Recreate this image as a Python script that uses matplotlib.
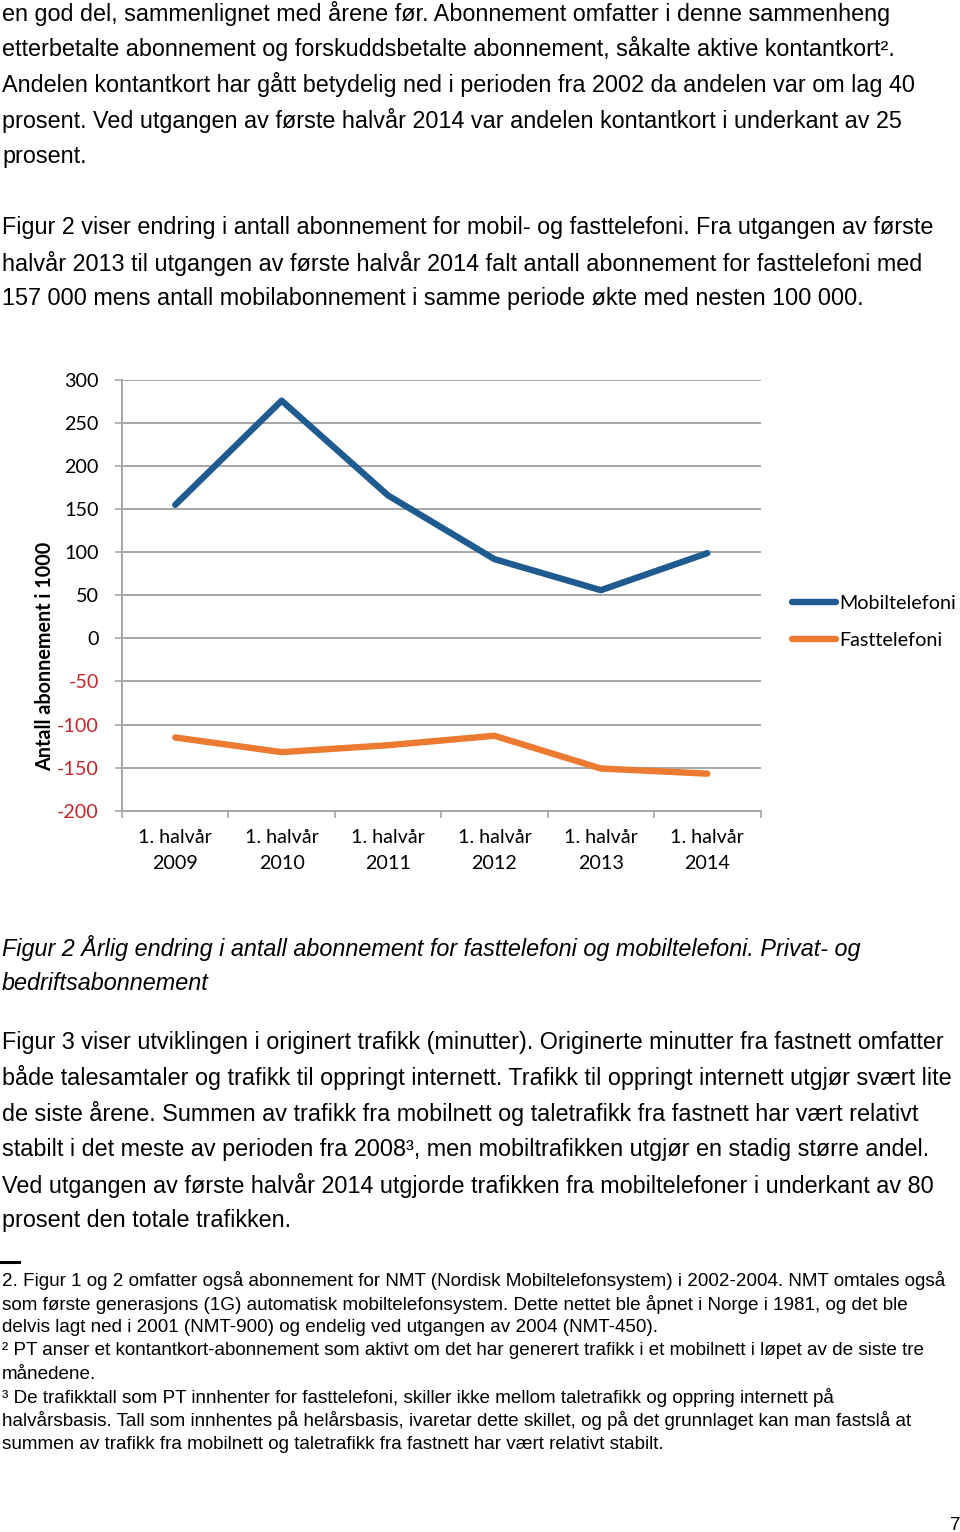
import matplotlib
matplotlib.use("Agg")
import matplotlib.pyplot as plt
import numpy as np

# data (change in subscriptions, in thousands)
categories = ["1. halvår\n2009", "1. halvår\n2010", "1. halvår\n2011",
              "1. halvår\n2012", "1. halvår\n2013", "1. halvår\n2014"]
mobil = [155, 276, 166, 92, 56, 99]
fast = [-115, -132, -124, -113, -151, -157]
yticks = [300, 250, 200, 150, 100, 50, 0, -50, -100, -150, -200]
series_names = ["Mobiltelefoni", "Fasttelefoni"]
ylabel = "Antall abonnement i 1000"

# page text
top_lines = [
    "en god del, sammenlignet med årene før. Abonnement omfatter i denne sammenheng",
    "etterbetalte abonnement og forskuddsbetalte abonnement, såkalte aktive kontantkort².",
    "Andelen kontantkort har gått betydelig ned i perioden fra 2002 da andelen var om lag 40",
    "prosent. Ved utgangen av første halvår 2014 var andelen kontantkort i underkant av 25",
    "prosent.",
    "",
    "Figur 2 viser endring i antall abonnement for mobil- og fasttelefoni. Fra utgangen av første",
    "halvår 2013 til utgangen av første halvår 2014 falt antall abonnement for fasttelefoni med",
    "157 000 mens antall mobilabonnement i samme periode økte med nesten 100 000.",
]
caption_lines = [
    "Figur 2 Årlig endring i antall abonnement for fasttelefoni og mobiltelefoni. Privat- og",
    "bedriftsabonnement",
]
para_lines = [
    "Figur 3 viser utviklingen i originert trafikk (minutter). Originerte minutter fra fastnett omfatter",
    "både talesamtaler og trafikk til oppringt internett. Trafikk til oppringt internett utgjør svært lite",
    "de siste årene. Summen av trafikk fra mobilnett og taletrafikk fra fastnett har vært relativt",
    "stabilt i det meste av perioden fra 2008³, men mobiltrafikken utgjør en stadig større andel.",
    "Ved utgangen av første halvår 2014 utgjorde trafikken fra mobiltelefoner i underkant av 80",
    "prosent den totale trafikken.",
]
foot_lines = [
    "2. Figur 1 og 2 omfatter også abonnement for NMT (Nordisk Mobiltelefonsystem) i 2002-2004. NMT omtales også",
    "som første generasjons (1G) automatisk mobiltelefonsystem. Dette nettet ble åpnet i Norge i 1981, og det ble",
    "delvis lagt ned i 2001 (NMT-900) og endelig ved utgangen av 2004 (NMT-450).",
    "² PT anser et kontantkort-abonnement som aktivt om det har generert trafikk i et mobilnett i løpet av de siste tre",
    "månedene.",
    "³ De trafikktall som PT innhenter for fasttelefoni, skiller ikke mellom taletrafikk og oppring internett på",
    "halvårsbasis. Tall som innhentes på helårsbasis, ivaretar dette skillet, og på det grunnlaget kan man fastslå at",
    "summen av trafikk fra mobilnett og taletrafikk fra fastnett har vært relativt stabilt.",
]

W, H = 960, 1532
fig = plt.figure(figsize=(W / 100, H / 100), dpi=100)

def put(lines, y0, step, size, style="normal"):
    for i, s in enumerate(lines):
        fig.text(2 / W, 1 - (y0 + i * step) / H, s, fontsize=size, family="Liberation Sans",
                 style=style, va="center", ha="left", color="black")

put(top_lines, 13, 35.75, 16.8)
put(caption_lines, 948, 35.5, 16.8, style="italic")
put(para_lines, 1042, 35.8, 16.8)
put(foot_lines, 1281, 23.3, 13.6)
fig.text(955 / W, 1 - 1525 / H, "7", fontsize=13.5, family="Liberation Sans", ha="center", va="center")
fig.add_artist(plt.Line2D([0, 19 / W], [1 - 1262 / H] * 2, color="black", lw=2.2))

# chart
grey = "#a6a6a6"
fs = 14.2
ax = fig.add_axes([122 / W, 1 - 810.7 / H, 638.5 / W, 430.7 / H])
x = np.arange(len(categories))
ax.plot(x, mobil, color="#1f5b91", lw=4.6, solid_capstyle="round", label=series_names[0])
ax.plot(x, fast, color="#ec7a31", lw=4.6, solid_capstyle="round", label=series_names[1])
ax.set_xlim(-0.5, len(categories) - 0.5)
ax.set_ylim(min(yticks), max(yticks))
ax.set_yticks(yticks)
ax.set_yticklabels([str(v) for v in yticks])
for lab, v in zip(ax.get_yticklabels(), yticks):
    lab.set_color("#c0282d" if v < 0 else "black")
ax.yaxis.grid(True, color=grey, lw=1.4)
ax.set_axisbelow(True)
ax.set_xticks(x)
ax.set_xticklabels(categories, linespacing=1.65)
ax.set_xticks(np.arange(-0.5, len(categories)), minor=True)
ax.tick_params(axis="x", which="major", length=0, pad=13)
ax.tick_params(axis="x", which="minor", length=4.8, width=1.2, color=grey, direction="out")
ax.tick_params(axis="y", length=4.8, width=1.2, color=grey, pad=12)
for lab in ax.get_xticklabels() + ax.get_yticklabels():
    lab.set_family("Lato")
    lab.set_fontsize(fs)
for s in ["top", "right"]:
    ax.spines[s].set_visible(False)
for s in ["left", "bottom"]:
    ax.spines[s].set_color(grey)
    ax.spines[s].set_linewidth(1.4)

fig.text(45 / W, 1 - 656 / H, ylabel, rotation=90, fontsize=fs, family="Lato",
         weight="bold", ha="center", va="center")

ax.legend(loc="center left", bbox_to_anchor=(792 / W, 1 - 622 / H), bbox_transform=fig.transFigure,
          frameon=False, prop={"family": "Lato", "size": fs}, handlelength=2.25,
          handletextpad=0.15, labelspacing=1.02, borderpad=0, borderaxespad=0)

fig.savefig("out.png", dpi=100)
